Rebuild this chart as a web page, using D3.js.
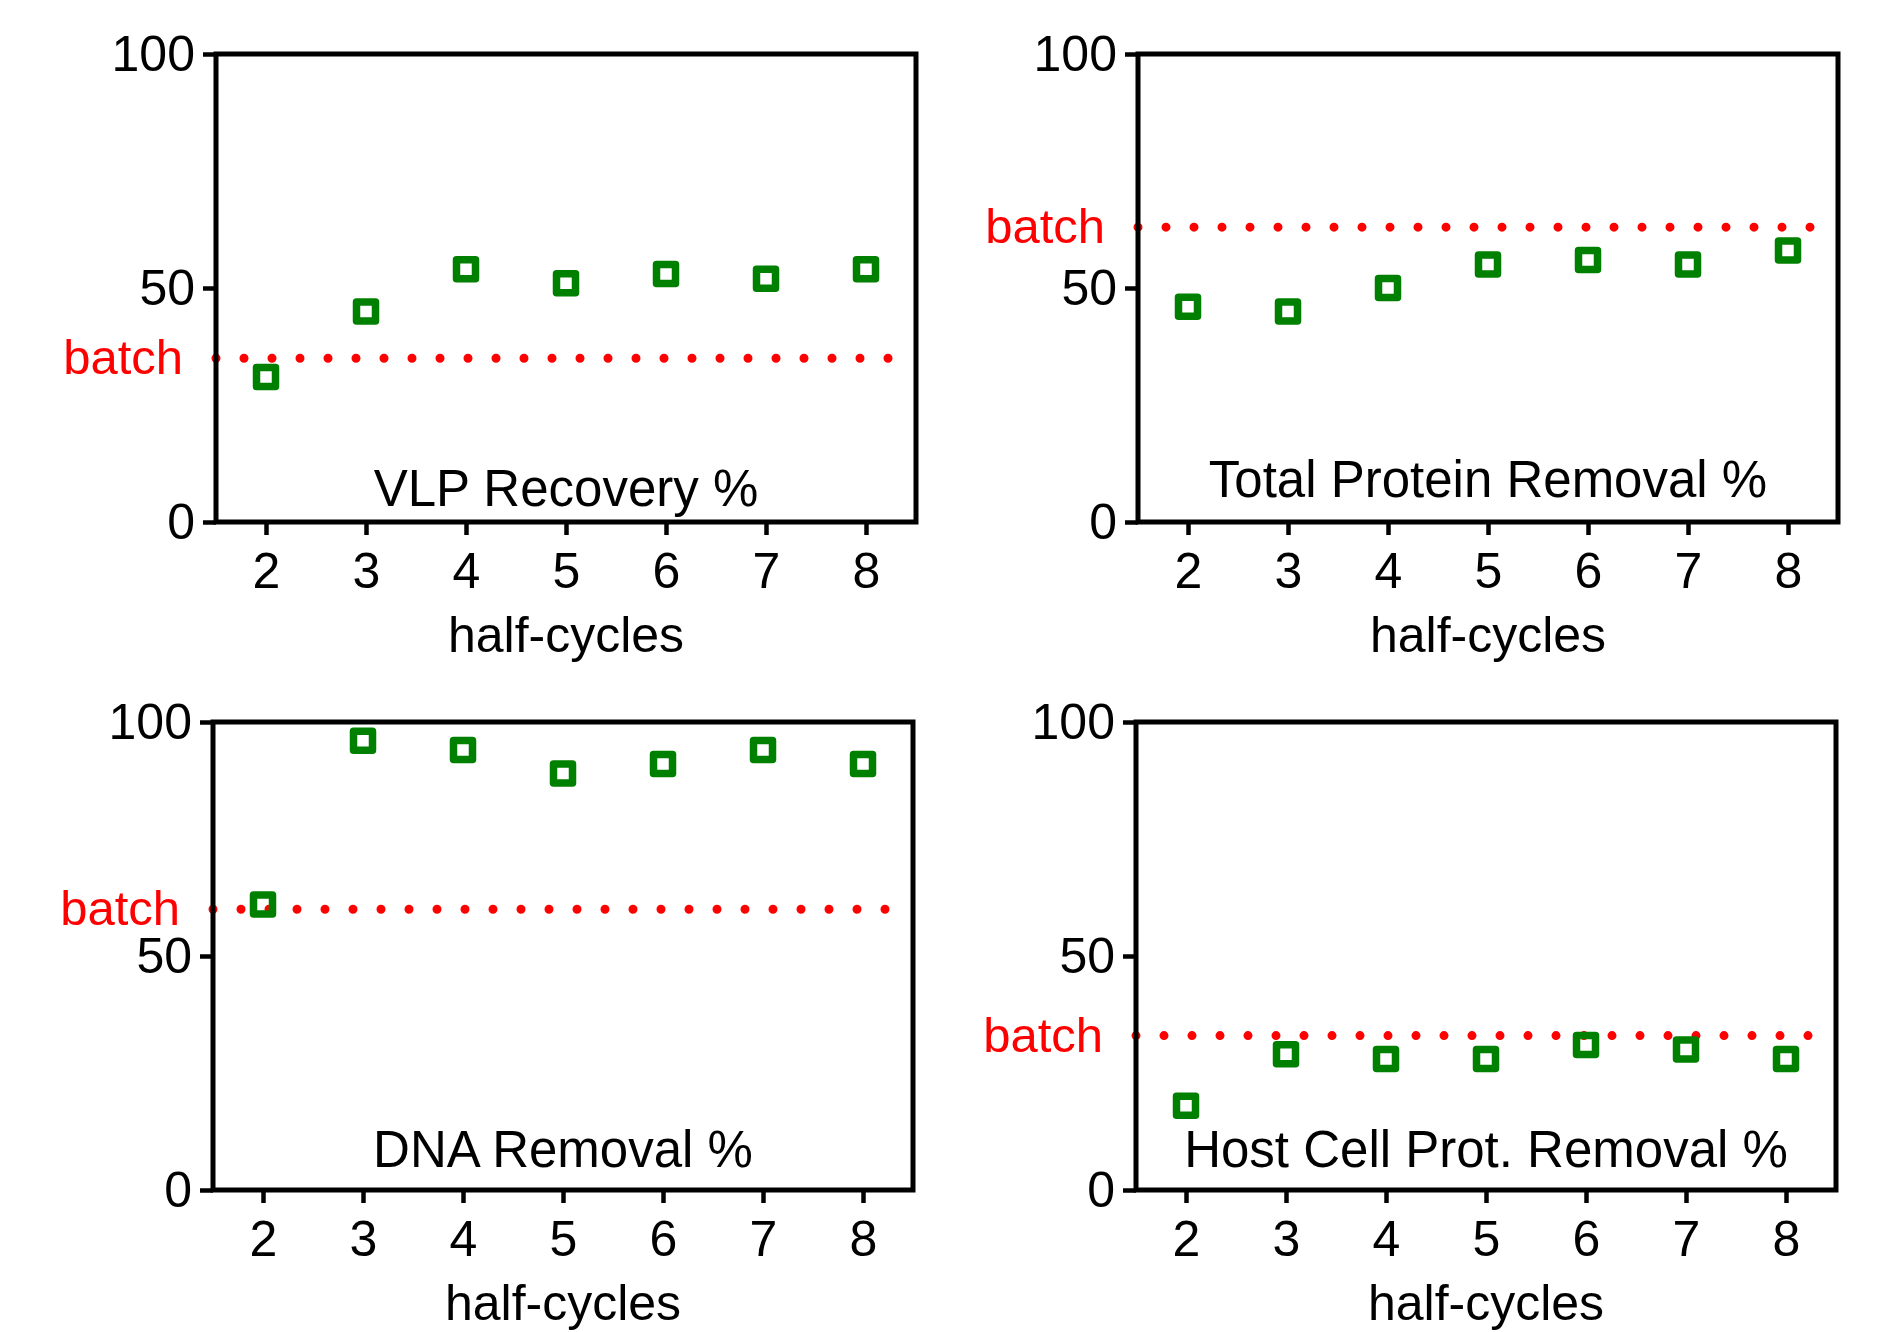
<!DOCTYPE html>
<html lang="en">
    <head>
        <meta charset="utf-8" />
        <title>half-cycles</title>
        <script src="https://d3js.org/d3.v7.min.js"></script>
        <style>
            body { margin: 0; background: #fff; }
            text { font-family: "Liberation Sans", Arial, sans-serif; }
        </style>
    </head>
    <body>
        <div id="chart"></div>
        <script>
            // data
            var halfCycles = [2, 3, 4, 5, 6, 7, 8];
            var vlpRecovery = [31, 45, 54, 51, 53, 52, 54];
            var totalProteinRemoval = [46, 45, 50, 55, 56, 55, 58];
            var dnaRemoval = [61, 96, 94, 89, 91, 94, 91];
            var hcpRemoval = [18, 29, 28, 28, 31, 30, 28];
            var batchValues = [35, 63, 60, 33];
            var panelTitles = ["VLP Recovery %", "Total Protein Removal %", "DNA Removal %", "Host Cell Prot. Removal %"];
            var yTicks = [0, 50, 100];
            var xLabel = "half-cycles";
            var batchLabel = "batch";

            var series = [vlpRecovery, totalProteinRemoval, dnaRemoval, hcpRemoval];

            // panel placement (pixels)
            var panels = [
                { left: 216, top: 54, titleUp: 16 },
                { left: 1138, top: 54, titleUp: 25 },
                { left: 213, top: 722, titleUp: 23 },
                { left: 1136, top: 722, titleUp: 23 }
            ];
            var width = 700, height = 468;

            var svg = d3.select("#chart")
                .append("svg")
                .attr("width", 1888)
                .attr("height", 1332);

            var x = d3.scaleLinear().domain([1.5, 8.5]).range([0, width]);
            var y = d3.scaleLinear().domain([0, 100]).range([height, 0]);

            panels.forEach(function (p, i) {
                var g = svg.append("g")
                    .attr("transform", "translate(" + p.left + "," + p.top + ")");

                // batch dotted line
                g.append("line")
                    .attr("x1", x(1.5))
                    .attr("x2", x(8.25))
                    .attr("y1", y(batchValues[i]))
                    .attr("y2", y(batchValues[i]))
                    .attr("stroke", "#ff0000")
                    .attr("stroke-width", 9)
                    .attr("stroke-linecap", "round")
                    .attr("stroke-dasharray", "0 28");

                g.append("text")
                    .attr("x", -33)
                    .attr("y", y(batchValues[i]) + 16)
                    .attr("text-anchor", "end")
                    .attr("fill", "#ff0000")
                    .style("font-size", "49px")
                    .text(batchLabel);

                // y axis ticks
                var yAxis = g.append("g")
                    .call(d3.axisLeft(y).tickValues(yTicks).tickSize(13).tickPadding(8).tickFormat(d3.format("d")));
                yAxis.select(".domain").remove();
                yAxis.selectAll("line").attr("stroke", "#000").attr("stroke-width", 4.5);
                yAxis.selectAll("text").attr("fill", "#000").style("font-size", "50px");

                // x axis ticks
                var xAxis = g.append("g")
                    .attr("transform", "translate(0," + height + ")")
                    .call(d3.axisBottom(x).tickValues(halfCycles).tickSize(13).tickPadding(17).tickFormat(d3.format("d")));
                xAxis.select(".domain").remove();
                xAxis.selectAll("line").attr("stroke", "#000").attr("stroke-width", 4.5);
                xAxis.selectAll("text").attr("fill", "#000").style("font-size", "50px");

                // frame
                g.append("rect")
                    .attr("x", 0)
                    .attr("y", 0)
                    .attr("width", width)
                    .attr("height", height)
                    .attr("fill", "none")
                    .attr("stroke", "#000")
                    .attr("stroke-width", 5);

                // markers
                g.selectAll(".pt")
                    .data(series[i])
                    .enter()
                    .append("rect")
                    .attr("class", "pt")
                    .attr("x", function (d, j) { return x(halfCycles[j]) - 9.5; })
                    .attr("y", function (d) { return y(d) - 9.5; })
                    .attr("width", 19)
                    .attr("height", 19)
                    .attr("fill", "none")
                    .attr("stroke", "#008000")
                    .attr("stroke-width", 7.5)
                    .attr("stroke-linejoin", "round");

                g.append("text")
                    .attr("x", width / 2)
                    .attr("y", height - p.titleUp)
                    .attr("text-anchor", "middle")
                    .attr("fill", "#000")
                    .style("font-size", "51px")
                    .text(panelTitles[i]);

                g.append("text")
                    .attr("x", x(5))
                    .attr("y", height + 130)
                    .attr("text-anchor", "middle")
                    .attr("fill", "#000")
                    .style("font-size", "50px")
                    .text(xLabel);
            });
        </script>
    </body>
</html>
